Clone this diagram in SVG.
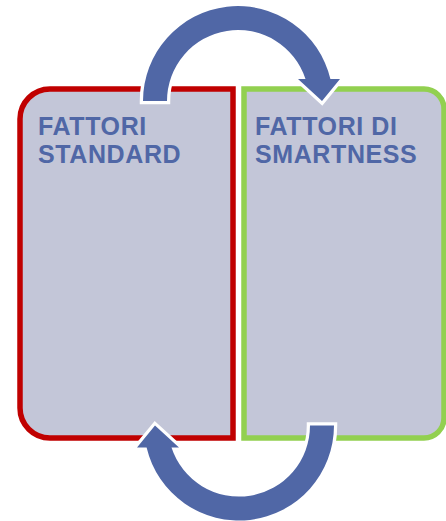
<svg xmlns="http://www.w3.org/2000/svg" width="446" height="521" viewBox="0 0 446 521">
<style>
.box{fill:#C3C6D8;stroke-width:5.5;stroke-linejoin:miter}
.lbl{font-family:"Liberation Sans",Arial,sans-serif;font-weight:bold;font-size:25px;letter-spacing:0.6px;fill:#5067A6}
.arrow{fill:#5067A6;stroke:#FFFFFF;stroke-width:6.5;paint-order:stroke;stroke-linejoin:miter}
</style>
<rect width="446" height="521" fill="#FFFFFF"/>
<g id="fattori-standard">
<path class="box" stroke="#C00000" d="M233,89 L233,438 L50,438 A30,30 0 0 1 20,408 L20,119 A30,30 0 0 1 50,89 Z"/>
<text class="lbl" x="38" y="134.5">FATTORI<tspan x="38" y="162.5">STANDARD</tspan></text>
</g>
<g id="fattori-smartness">
<path class="box" stroke="#92D050" d="M244,89 L424,89 A20,20 0 0 1 444,109 L444,418 A20,20 0 0 1 424,438 L244,438 Z"/>
<text class="lbl" x="255" y="134.5">FATTORI DI<tspan x="255" y="162.5">SMARTNESS</tspan></text>
</g>
<g id="connectors">
<path id="arrow-top" class="arrow" d="M143,101 A95,95 0 0 1 330.4,79 L340,79 L322,101 L298,79 L305.5,79 A71,71 0 0 0 167,101 Z"/>
<path id="arrow-bottom" class="arrow" transform="rotate(180 238.5 263.3)" d="M143,101 A95,95 0 0 1 330.4,79 L340,79 L322,101 L298,79 L305.5,79 A71,71 0 0 0 167,101 Z"/>
</g>
</svg>
